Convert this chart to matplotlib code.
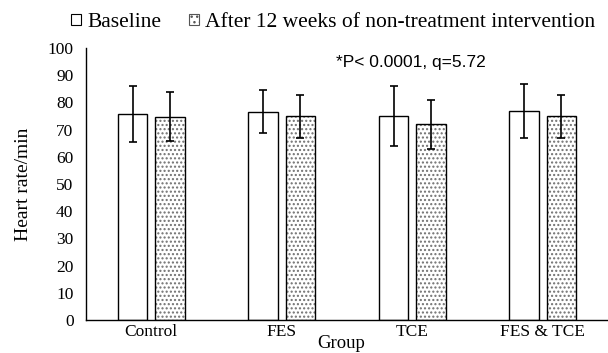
import numpy as np
import matplotlib.pyplot as plt
from matplotlib.patches import Patch

groups = ['Control', 'FES', 'TCE', 'FES & TCE']
baseline = [75.8, 76.6, 75.0, 76.8]
baseline_sd = [10.2, 8.0, 11.2, 9.8]
after = [74.8, 74.9, 72.0, 74.9]
after_sd = [9.0, 8.0, 9.0, 8.0]
series_names = ['Baseline', 'After 12 weeks of non-treatment intervention']
yticks = list(range(0, 101, 10))

serif = 'Liberation Serif'

fig = plt.figure(figsize=(6.08, 3.53), dpi=100)
ax = fig.add_axes([86 / 608, 33 / 353, 522 / 608, 272 / 353])

x = np.arange(len(groups))
w = 0.226
off = 0.142

# plain bars
ax.bar(x - off, baseline, w, color='white', edgecolor='black', linewidth=1.0, zorder=2)
ax.errorbar(x - off, baseline, yerr=baseline_sd, fmt='none', ecolor='black',
            elinewidth=1.2, capsize=2.8, capthick=1.2, zorder=4)

# dotted bars: gray dots first, black outline on top
plt.rcParams['hatch.linewidth'] = 1.0
ax.bar(x + off, after, w, color='white', edgecolor='#707070', hatch='....',
       linewidth=0, zorder=2)
ax.bar(x + off, after, w, fill=False, edgecolor='black', linewidth=1.0, zorder=3)
ax.errorbar(x + off, after, yerr=after_sd, fmt='none', ecolor='black',
            elinewidth=1.2, capsize=2.8, capthick=1.2, zorder=4)

ax.set_xlim(-0.5, len(groups) - 0.5)
ax.set_ylim(0, 100)
ax.set_yticks(yticks)
ax.set_xticks(x)
ax.set_xticklabels(groups, fontfamily=serif, fontsize=12.5)
for lab in ax.get_yticklabels():
    lab.set_fontfamily(serif)
    lab.set_fontsize(12.5)
ax.tick_params(axis='y', length=0, pad=9)
ax.tick_params(axis='x', length=0, pad=3)

for side in ['top', 'right']:
    ax.spines[side].set_visible(False)
for side in ['left', 'bottom']:
    ax.spines[side].set_linewidth(1.0)
    ax.spines[side].set_color('black')

ax.set_ylabel('Heart rate/min', fontfamily=serif, fontsize=14, labelpad=11)
fig.text(341 / 608, 10 / 353, 'Group', fontfamily=serif, fontsize=13.5,
         ha='center', va='center')

ax.text(0.479, 0.947, '*P< 0.0001, q=5.72', transform=ax.transAxes,
        fontfamily='Liberation Sans', fontsize=12.5, ha='left', va='center')

handles = [Patch(facecolor='white', edgecolor='black', linewidth=0.8),
           Patch(facecolor='white', edgecolor='#555555', hatch='...', linewidth=0.8)]
fig.legend(handles, series_names, loc='center', bbox_to_anchor=(0.548, 0.936),
           ncol=2, frameon=False, prop={'family': serif, 'size': 15.5},
           handlelength=0.45, handleheight=0.45, handletextpad=0.3, columnspacing=1.3)

fig.savefig('out.png', dpi=100)
